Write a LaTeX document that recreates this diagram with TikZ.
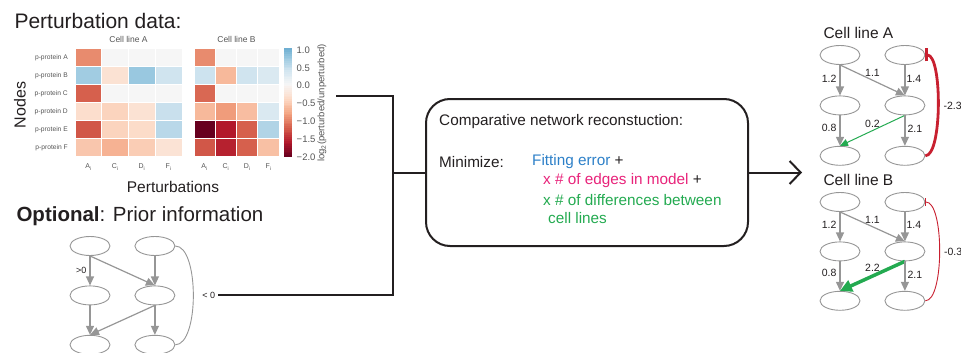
\documentclass[tikz,border=0pt]{standalone}
\usepackage{fontspec}
\setmainfont{Liberation Sans}
\usepackage{tikz}
\usetikzlibrary{positioning, shapes.geometric, arrows.meta}
\definecolor{inkColor}{RGB}{35,31,32}
\definecolor{labelGray}{RGB}{85,85,85}
\definecolor{edgeGray}{RGB}{150,150,150}
\definecolor{fitBlue}{RGB}{45,128,200}
\definecolor{edgePink}{RGB}{232,35,122}
\definecolor{diffGreen}{RGB}{35,170,80}
\definecolor{inhibitRed}{RGB}{200,32,48}
\tikzstyle{canvas} = [x = 1pt, y = -1pt, color=inkColor]
\tikzstyle{heatCellStyle} = [draw=white, line width=1pt]
\tikzstyle{headText} = [font=\fontsize{8.5}{10}\selectfont, text=labelGray]
\tikzstyle{rowText} = [font=\fontsize{6.7}{8}\selectfont, text=labelGray, anchor=east, inner sep=0pt]
\tikzstyle{colText} = [font=\fontsize{7}{8}\selectfont, text=labelGray, inner sep=0pt]
\tikzstyle{tickText} = [font=\fontsize{9.5}{11}\selectfont, text=labelGray, anchor=west, inner sep=0pt]
\tikzstyle{axisText} = [font=\fontsize{15.5}{18}\selectfont]
\tikzstyle{boxText} = [font=\fontsize{15.3}{18}\selectfont, anchor=west, inner sep=0pt]
\tikzstyle{netNode} = [ellipse, draw=edgeGray, line width=0.9pt, minimum width=40pt, minimum height=19pt, inner sep=0pt]
\tikzstyle{netEdge} = [draw=edgeGray, line width=1.2pt, -{Triangle[length=9pt, width=8pt]}]
\tikzstyle{netCurve} = [draw=edgeGray, line width=0.9pt]
\tikzstyle{netLabel} = [font=\fontsize{10.5}{12}\selectfont, inner sep=0pt]
\tikzstyle{netSmall} = [font=\fontsize{9}{10}\selectfont, inner sep=0pt]
\tikzstyle{changeThin} = [draw=diffGreen, line width=1pt, -{Triangle[length=8pt, width=7pt]}]
\tikzstyle{changeThick} = [draw=diffGreen, line width=3.5pt, -{Triangle[length=12pt, width=12pt]}]
\tikzstyle{inhibitThick} = [draw=inhibitRed, line width=2.8pt, {Bar[width=13pt]}-]
\tikzstyle{inhibitThin} = [draw=inhibitRed, line width=0.9pt, {Bar[width=8pt]}-]
\tikzstyle{flowLine} = [draw=inkColor, line width=2pt]
\newcommand{\heatColor}[1]{%
  \pgfmathsetmacro{\heatPos}{max(0, min(7.999, (#1 + 2) / 0.4))}%
  \pgfmathtruncatemacro{\heatIdx}{floor(\heatPos)}%
  \pgfmathsetmacro{\heatFrac}{\heatPos - \heatIdx}%
  \pgfmathtruncatemacro{\heatR}{{103,178,214,244,253,247,209,146,67}[\heatIdx] * (1 - \heatFrac) + {103,178,214,244,253,247,209,146,67}[\heatIdx + 1] * \heatFrac}%
  \pgfmathtruncatemacro{\heatG}{{0,24,96,165,219,247,229,197,147}[\heatIdx] * (1 - \heatFrac) + {0,24,96,165,219,247,229,197,147}[\heatIdx + 1] * \heatFrac}%
  \pgfmathtruncatemacro{\heatB}{{31,43,77,130,199,247,240,222,195}[\heatIdx] * (1 - \heatFrac) + {31,43,77,130,199,247,240,222,195}[\heatIdx + 1] * \heatFrac}%
  \definecolor{heatCell}{RGB}{\heatR,\heatG,\heatB}%
}
\newcommand{\heatRow}[4]{
  \foreach \heatVal [count=\heatCol from 0] in {#4} {
    \heatColor{\heatVal}
    \filldraw [heatCellStyle, fill=heatCell] (#1 + \heatCol * #2, 48.5 + #3 * 18.08) rectangle + (#2, 18.08);
  }
}
\newcommand{\netNodes}[5]{
  \node [netNode] (#1TL) at (#2, #3) {};
  \node [netNode, right=#4 of #1TL] (#1TR) {};
  \node [netNode, below=#5 of #1TL] (#1ML) {};
  \node [netNode, below=#5 of #1TR] (#1MR) {};
  \node [netNode, below=#5 of #1ML] (#1BL) {};
  \node [netNode, below=#5 of #1MR] (#1BR) {};
}

\begin{document}
\begin{tikzpicture}[canvas]
  \useasboundingbox (0, 0) rectangle (961, 353);

  \node [anchor=west, font=\fontsize{21}{24}\selectfont] (dataTitle) at (11, 21) {Perturbation data:};
  \node [headText] (headA) at (128.5, 39) {Cell line A};
  \node [headText] (headB) at (236.5, 39) {Cell line B};

  \heatRow{75}{26.75}{0}{-0.95,0,0,0}
  \heatRow{75}{26.75}{1}{0.7,-0.3,0.75,0.4}
  \heatRow{75}{26.75}{2}{-1.2,0,0,0}
  \heatRow{75}{26.75}{3}{-0.35,-0.45,-0.3,0.45}
  \heatRow{75}{26.75}{4}{-1.25,-0.45,-0.38,0.55}
  \heatRow{75}{26.75}{5}{-0.55,-0.7,-0.5,-0.28}

  \heatRow{194}{21.3}{0}{-0.95,0,0,0}
  \heatRow{194}{21.3}{1}{0.42,-0.65,0.4,0.3}
  \heatRow{194}{21.3}{2}{-1.15,0,0,0}
  \heatRow{194}{21.3}{3}{-0.65,-0.85,-0.62,0.3}
  \heatRow{194}{21.3}{4}{-2.0,-1.6,-1.2,0.6}
  \heatRow{194}{21.3}{5}{-1.25,-1.55,-1.2,-0.6}

  \foreach \rowName [count=\rowNum from 0] in {A,...,F} {
    \node [rowText] (rowLabel\rowNum) at (68, 57.5 + \rowNum * 18.08) {p-protein \rowName};
  }
  \foreach \colName [count=\colNum from 0] in {A,C,D,F} {
    \node [colText] (colA\colNum) at (88.4 + \colNum * 26.75, 167) {\colName\textsubscript{i}};
    \node [colText] (colB\colNum) at (204.6 + \colNum * 21.3, 167) {\colName\textsubscript{i}};
  }

  \foreach \barStep in {0,...,59} {
    \pgfmathsetmacro{\barVal}{1 - 3 * (\barStep + 0.5) / 60}
    \heatColor{\barVal}
    \fill [heatCell] (284, 48.5 + \barStep * 1.808) rectangle + (8, 2.1);
  }
  \foreach \tickName [count=\tickNum from 0] in {1.0,0.5,0.0,−0.5,−1.0,−1.5,−2.0} {
    \node [tickText] (tick\tickNum) at (296.5, 50 + \tickNum * 17.83) {\tickName};
  }
  \node [rotate=90, font=\fontsize{9.5}{11}\selectfont, text=labelGray] (barLabel) at (322, 103) {log\textsubscript{2}(perturbed/unperturbed)};
  \node [axisText, rotate=90, font=\fontsize{16}{18}\selectfont] (nodesAxis) at (20, 105) {Nodes};
  \node [axisText] (pertAxis) at (173, 187) {Perturbations};

  \node [anchor=west, font=\fontsize{20.5}{24}\selectfont] (priorTitle) at (13, 216) {\textbf{Optional}: Prior information};
  \netNodes{prior}{90}{246}{24pt}{29.5pt}
  \draw [netEdge] (priorTL.south) -- (priorML.north) node [netSmall, midway, left=3pt] (priorPos) {>0};
  \draw [netEdge] (priorTL.south) -- (priorMR.north);
  \draw [netEdge] (priorTR.south) -- (priorMR.north);
  \draw [netEdge] (priorML.south) -- (priorBL.north);
  \draw [netEdge] (priorMR.south) -- (priorBL.north);
  \draw [netEdge] (priorMR.south) -- (priorBR.north);
  \draw [netCurve] (priorTR.east) to [out=0, in=0, distance=24pt] node [netSmall, right=6pt, inner sep=2.5pt] (priorSign) {< 0} (priorBR.east);

  \node [draw, line width=2pt, rounded corners=24pt, minimum width=322pt, minimum height=147pt] (recon) at (587, 172.5) {};
  \node [boxText] (reconTitle) at (439, 122) {Comparative network reconstuction:};
  \node [boxText] (minLabel) at (439, 162) {Minimize:};
  \node [boxText] (termFit) at (532, 162) {\textcolor{fitBlue}{Fitting error} +};
  \node [boxText] (termEdges) at (543, 181) {\textcolor{edgePink}{x \# of edges in model} +};
  \node [boxText] (termDiff) at (543, 200) {\textcolor{diffGreen}{x \# of differences between}};
  \node [boxText] (termLines) at (548, 218.5) {\textcolor{diffGreen}{cell lines}};

  \coordinate (dataEnd) at (336, 96);
  \coordinate (joinTop) at (393, 96);
  \coordinate (outArrow) at (802, 172.5);
  \draw [flowLine] (dataEnd) -- (joinTop) -- (joinTop |- priorSign.east) -- (priorSign.east);
  \draw [flowLine] (joinTop |- recon.west) -- (recon.west);
  \draw [flowLine, -{Straight Barb[length=11pt, width=23pt]}] (recon.east) -- (outArrow);

  \node [anchor=west, font=\fontsize{15.5}{18}\selectfont] (netTitleA) at (820, 33) {Cell line A};
  \netNodes{lineA}{840}{55}{24pt}{30.5pt}
  \draw [netEdge] (lineATL.south) -- (lineAML.north) node [netLabel, pos=0.45, left=3pt] (wA1) {1.2};
  \draw [netEdge] (lineATL.south) -- (lineAMR.north) node [netLabel, midway, above=3pt] (wA2) {1.1};
  \draw [netEdge] (lineATR.south) -- (lineAMR.north) node [netLabel, pos=0.45, right=1pt] (wA3) {1.4};
  \draw [netEdge] (lineAML.south) -- (lineABL.north) node [netLabel, pos=0.4, left=3pt] (wA4) {0.8};
  \draw [changeThin] (lineAMR.south) -- (lineABL.north) node [netLabel, midway, above=2pt] (wA5) {0.2};
  \draw [netEdge] (lineAMR.south) -- (lineABR.north) node [netLabel, pos=0.45, right=2pt] (wA6) {2.1};
  \draw [inhibitThick] (lineATR.east) to [out=0, in=0, distance=17pt] node [netLabel, right=4pt] (wA7) {-2.3} (lineABR.east);

  \node [anchor=west, font=\fontsize{15.5}{18}\selectfont] (netTitleB) at (820, 180) {Cell line B};
  \netNodes{lineB}{840}{202}{24pt}{29.5pt}
  \draw [netEdge] (lineBTL.south) -- (lineBML.north) node [netLabel, pos=0.45, left=3pt] (wB1) {1.2};
  \draw [netEdge] (lineBTL.south) -- (lineBMR.north) node [netLabel, midway, above=3pt] (wB2) {1.1};
  \draw [netEdge] (lineBTR.south) -- (lineBMR.north) node [netLabel, pos=0.45, right=1pt] (wB3) {1.4};
  \draw [netEdge] (lineBML.south) -- (lineBBL.north) node [netLabel, pos=0.4, left=3pt] (wB4) {0.8};
  \draw [changeThick] (lineBMR.south) -- (lineBBL.north) node [netLabel, midway, above=3pt] (wB5) {2.2};
  \draw [netEdge] (lineBMR.south) -- (lineBBR.north) node [netLabel, pos=0.45, right=2pt] (wB6) {2.1};
  \draw [inhibitThin] (lineBTR.east) to [out=0, in=0, distance=19pt] node [netLabel, right=4pt] (wB7) {-0.3} (lineBBR.east);
\end{tikzpicture}
\end{document}
